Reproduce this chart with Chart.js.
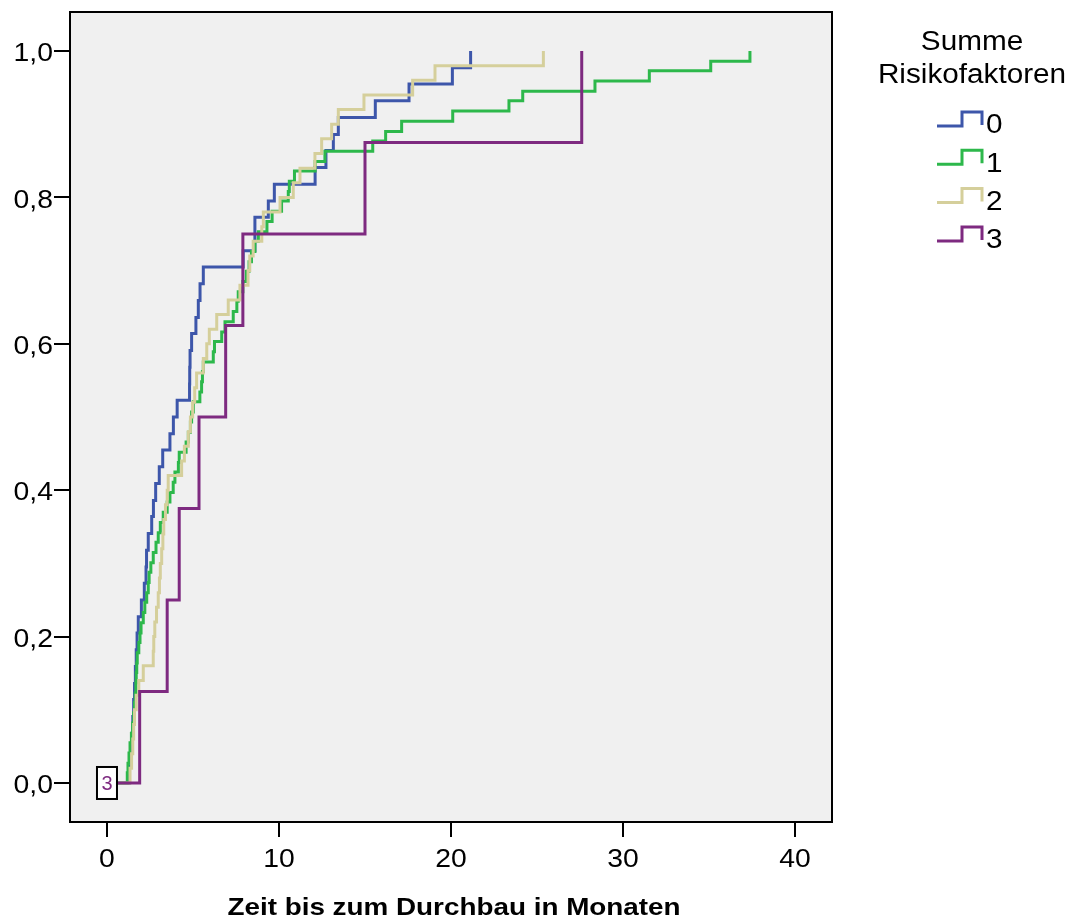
<!DOCTYPE html>
<html>
<head>
<meta charset="utf-8">
<script src="https://cdn.jsdelivr.net/npm/chart.js@4.4.1/dist/chart.umd.min.js"></script>
<style>
  html, body { margin: 0; padding: 0; background: #fff; }
  #wrap { width: 1075px; height: 921px; }
</style>
</head>
<body>
<div id="wrap"><canvas id="kmChart" width="1075" height="921"></canvas></div>
<script>
// Kumulative Ereigniskurven nach Summe der Risikofaktoren
const groupLabels = ['0', '1', '2', '3'];
const groupColors = ['#3d56aa', '#2db84b', '#d5cf9b', '#7e2a80'];
const legendTitle = ['Summe', 'Risikofaktoren'];
const xTitle = 'Zeit bis zum Durchbau in Monaten';
const xTicks = [0, 10, 20, 30, 40];
const yTicks = [0, 0.2, 0.4, 0.6, 0.8, 1.0];

// Gruppe 0
const timesG0 = [0, 1.3, 1.4, 1.45, 1.5, 1.55, 1.6, 1.65, 1.7, 1.75, 1.82, 2.0, 2.17, 2.27, 2.3, 2.4, 2.6, 2.7, 2.83, 3.04,
  3.24, 3.66, 3.86, 4.08, 4.8, 4.81, 4.83, 4.92, 5.17, 5.31, 5.41, 5.6, 7.92, 8.6, 9.38, 9.73, 12.1, 12.73, 13.16, 13.45,
  15.6, 17.56, 20.08, 21.14];
const valsG0 = [0, 0.023, 0.045, 0.068, 0.091, 0.114, 0.136, 0.159, 0.182, 0.205, 0.227, 0.25, 0.273, 0.295, 0.318, 0.341, 0.364, 0.386, 0.409, 0.432,
  0.455, 0.477, 0.5, 0.523, 0.545, 0.568, 0.591, 0.614, 0.636, 0.659, 0.682, 0.705, 0.727, 0.773, 0.795, 0.818, 0.841, 0.864, 0.886, 0.909,
  0.932, 0.955, 0.977, 1.0];

// Gruppe 1
const timesG1 = [0, 1.18, 1.22, 1.28, 1.34, 1.42, 1.49, 1.55, 1.6, 1.64, 1.68, 1.7, 1.73, 1.76, 1.85, 1.92, 1.98, 2.11, 2.2, 2.31,
  2.4, 2.45, 2.55, 2.69, 2.85, 2.98, 3.1, 3.27, 3.5, 3.66, 3.85, 3.95, 4.15, 4.2, 4.6, 4.73, 4.85, 4.92, 5.02, 5.4,
  5.5, 5.55, 5.6, 6.18, 6.25, 6.67, 6.86, 7.34, 7.55, 7.63, 7.9, 8.1, 8.26, 8.4, 8.6, 8.8, 9.3, 9.6, 10.15, 10.54,
  10.6, 10.9, 12.1, 12.67, 15.45, 16.2, 17.13, 20.1, 23.37, 24.17, 28.37, 31.53, 35.1, 37.38];
const valsG1 = [0, 0.014, 0.027, 0.041, 0.055, 0.068, 0.082, 0.096, 0.110, 0.123, 0.137, 0.151, 0.164, 0.178, 0.192, 0.205, 0.219, 0.233, 0.247, 0.260,
  0.274, 0.288, 0.301, 0.315, 0.329, 0.342, 0.356, 0.370, 0.384, 0.397, 0.411, 0.425, 0.438, 0.452, 0.466, 0.479, 0.493, 0.507, 0.521, 0.534,
  0.548, 0.562, 0.575, 0.589, 0.603, 0.616, 0.630, 0.644, 0.658, 0.671, 0.685, 0.699, 0.712, 0.726, 0.740, 0.753, 0.767, 0.781, 0.795, 0.808,
  0.822, 0.836, 0.849, 0.863, 0.877, 0.890, 0.904, 0.918, 0.932, 0.945, 0.959, 0.973, 0.986, 1.0];

// Gruppe 2
const timesG2 = [0, 1.34, 1.43, 1.5, 1.55, 1.6, 1.7, 1.85, 2.11, 2.69, 2.72, 2.78, 2.88, 2.98, 3.05, 3.1, 3.18, 3.25, 3.3, 3.4,
  3.5, 3.56, 4.34, 4.5, 4.73, 4.85, 4.98, 5.1, 5.21, 5.6, 5.8, 5.95, 6.38, 7.05, 7.73, 8.2, 8.3, 8.5, 9.0, 9.09,
  10.06, 10.83, 11.22, 12.09, 12.48, 13.06, 13.45, 14.94, 17.77, 19.07, 25.37];
const valsG2 = [0, 0.02, 0.04, 0.06, 0.08, 0.10, 0.12, 0.14, 0.16, 0.18, 0.20, 0.22, 0.24, 0.26, 0.28, 0.30, 0.32, 0.34, 0.36, 0.38,
  0.40, 0.42, 0.44, 0.46, 0.48, 0.50, 0.52, 0.54, 0.56, 0.58, 0.60, 0.62, 0.64, 0.66, 0.68, 0.70, 0.72, 0.74, 0.76, 0.78,
  0.80, 0.82, 0.84, 0.86, 0.88, 0.90, 0.92, 0.94, 0.96, 0.98, 1.0];

// Gruppe 3
const timesG3 = [0, 1.9, 3.5, 4.2, 5.35, 6.9, 7.9, 15.0, 27.6];
const valsG3 = [0, 0.125, 0.25, 0.375, 0.5, 0.625, 0.75, 0.875, 1.0];

const allTimes = [timesG0, timesG1, timesG2, timesG3];
const allVals = [valsG0, valsG1, valsG2, valsG3];

const fontFam = "'Liberation Sans', Arial, sans-serif";

// Text leicht in die Breite gezogen, wie im SPSS-Export
function wideText(ctx, txt, x, y, sx, align) {
  ctx.save();
  ctx.translate(x, y);
  ctx.scale(sx, 1);
  ctx.textAlign = align;
  ctx.fillText(txt, 0, 0);
  ctx.restore();
}

// Hintergrund, Rahmen, Beschriftung, Startmarke und Legende
const spssLook = {
  id: 'spssLook',
  beforeDatasetsDraw(chart) {
    const { ctx, chartArea: a } = chart;
    ctx.save();
    ctx.fillStyle = '#f0f0f0';
    ctx.fillRect(a.left, a.top, a.right - a.left, a.bottom - a.top);
    ctx.restore();
  },
  afterDatasetsDraw(chart) {
    const { ctx, chartArea: a } = chart;
    const xs = chart.scales.x, ys = chart.scales.y;
    ctx.save();
    ctx.strokeStyle = '#000';
    ctx.lineWidth = 2;
    ctx.strokeRect(a.left, a.top, a.right - a.left, a.bottom - a.top);

    // Achsenbeschriftung
    ctx.fillStyle = '#000';
    ctx.textBaseline = 'middle';
    ctx.font = '26px ' + fontFam;
    yTicks.forEach(v => {
      wideText(ctx, v.toFixed(1).replace('.', ','), 53, ys.getPixelForValue(v) + 3, 1.09, 'right');
    });
    xTicks.forEach(v => {
      wideText(ctx, String(v), xs.getPixelForValue(v), 860, 1.09, 'center');
    });
    ctx.font = 'bold 24px ' + fontFam;
    wideText(ctx, xTitle, (a.left + a.right) / 2 + 3, 908, 1.16, 'center');

    // Kennzeichnung der Gruppe 3 am Ursprung
    const bx = xs.getPixelForValue(0), by = ys.getPixelForValue(0);
    ctx.fillStyle = '#fff';
    ctx.fillRect(bx - 10, by - 16, 20, 32);
    ctx.lineWidth = 2;
    ctx.strokeRect(bx - 10, by - 16, 20, 32);
    ctx.fillStyle = groupColors[3];
    ctx.font = '20px ' + fontFam;
    ctx.textAlign = 'center';
    ctx.fillText('3', bx, by + 1);

    // Legende
    ctx.fillStyle = '#000';
    ctx.font = '27px ' + fontFam;
    wideText(ctx, legendTitle[0], 972, 43, 1.1, 'center');
    wideText(ctx, legendTitle[1], 972, 76, 1.1, 'center');
    groupLabels.forEach((lab, i) => {
      const yc = 124 + i * 38.3;
      ctx.strokeStyle = groupColors[i];
      ctx.lineWidth = 3;
      ctx.beginPath();
      ctx.moveTo(937, yc + 2);
      ctx.lineTo(962, yc + 2);
      ctx.lineTo(962, yc - 12);
      ctx.lineTo(982, yc - 12);
      ctx.lineTo(982, yc + 1);
      ctx.stroke();
      ctx.fillStyle = '#000';
      wideText(ctx, lab, 986, yc + 2, 1.1, 'left');
    });
    ctx.restore();
  }
};

const datasets = groupLabels.map((lab, i) => ({
  label: lab,
  data: allTimes[i].map((t, k) => ({ x: t, y: allVals[i][k] })),
  borderColor: groupColors[i],
  borderWidth: 3,
  pointRadius: 0,
  fill: false,
  stepped: true,
  order: 3 - i
}));

new Chart(document.getElementById('kmChart'), {
  type: 'line',
  data: { datasets },
  options: {
    responsive: false,
    animation: false,
    layout: { padding: { top: 12, right: 243, left: 0, bottom: 0 } },
    scales: {
      x: {
        type: 'linear',
        min: -2.15,
        max: 42.15,
        afterBuildTicks: s => { s.ticks = xTicks.map(v => ({ value: v })); },
        afterFit: s => { s.height = 99; },
        grid: { drawOnChartArea: false, drawTicks: true, tickLength: 15, color: '#000', lineWidth: 2 },
        border: { display: false },
        ticks: { display: false }
      },
      y: {
        type: 'linear',
        min: -0.0533,
        max: 1.0533,
        afterBuildTicks: s => { s.ticks = yTicks.map(v => ({ value: v })); },
        afterFit: s => { s.width = 70; },
        grid: { drawOnChartArea: false, drawTicks: true, tickLength: 16, color: '#000', lineWidth: 2 },
        border: { display: false },
        ticks: { display: false }
      }
    },
    plugins: {
      legend: { display: false },
      tooltip: { enabled: false }
    }
  },
  plugins: [spssLook]
});
</script>
</body>
</html>
